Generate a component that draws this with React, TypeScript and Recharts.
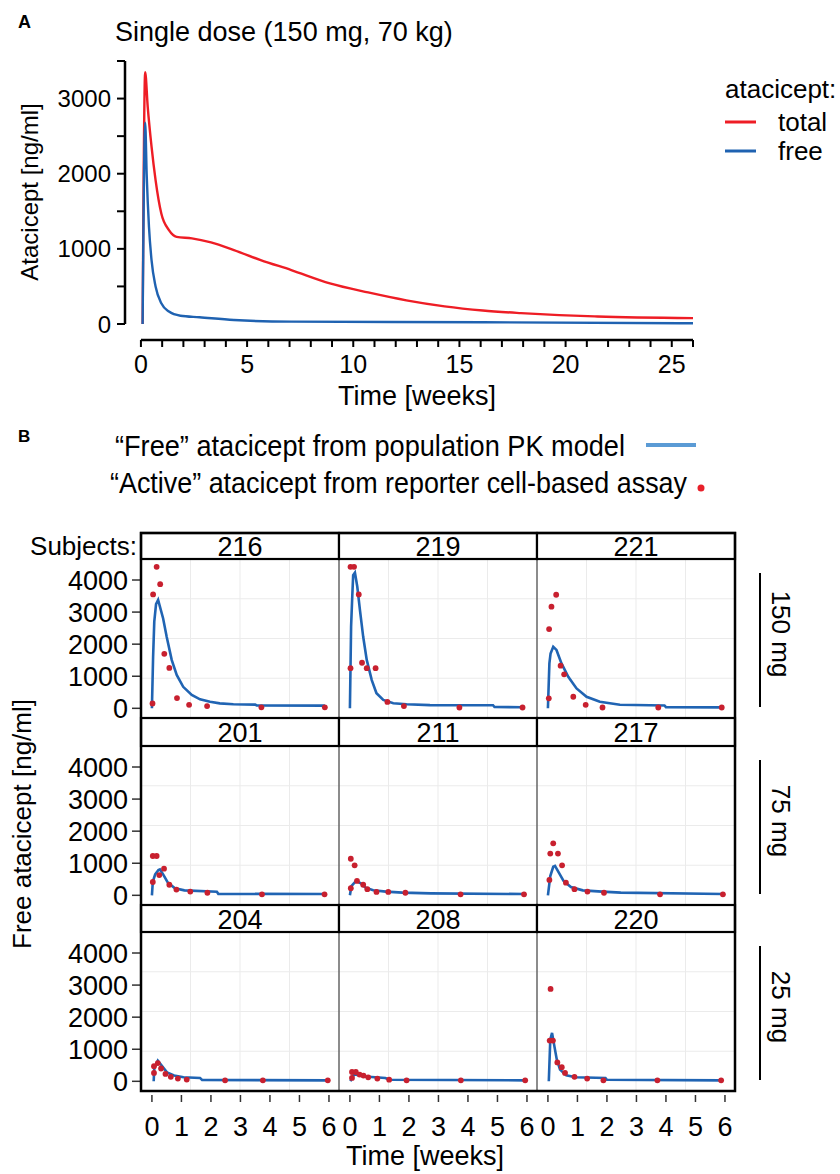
import React from 'react';
import {
  LineChart,
  ComposedChart,
  Line,
  Scatter,
  XAxis,
  YAxis,
  ReferenceLine,
  CartesianGrid,
} from 'recharts';

const FONT = '"Liberation Sans", Arial, Helvetica, sans-serif';

// ---------- Panel A data (single dose 150 mg, 70 kg) ----------
const totalWeeks = [0.08, 0.2, 0.32, 0.5, 0.69, 0.96, 1.32, 1.68, 2.4, 3.3, 4.38, 5.64, 7.08, 8.9, 10.7, 12.5, 14.3, 16.1, 17.9, 19.7, 21.5, 26];
const totalConc = [0, 3350, 2890, 2360, 1915, 1470, 1250, 1160, 1140, 1086, 984, 851, 718, 541, 420, 315, 235, 180, 145, 118, 100, 78];
const freeWeeks = [0.08, 0.2, 0.27, 0.38, 0.5, 0.69, 0.96, 1.32, 1.86, 2.76, 4.38, 7.08, 16.1, 26];
const freeConc = [0, 2680, 2000, 1290, 850, 500, 275, 165, 110, 90, 53, 31, 24, 9];
const A_Y_TICKS = [0, 500, 1000, 1500, 2000, 2500, 3000, 3500];
const A_X_TICKS = Array.from({ length: 27 }, (_, i) => i);

// ---------- Panel B data ----------
const subjects = ['216', '219', '221', '201', '211', '217', '204', '208', '220'];
const doseLabels = ['150 mg', '75 mg', '25 mg'];
const B_Y_TICKS = [0, 1000, 2000, 3000, 4000];
const B_X_TICKS = [0, 1, 2, 3, 4, 5, 6];

type P = [number, number];
const obs216: P[] = [[0.02, 150], [0.04, 3550], [0.16, 4410], [0.28, 3870], [0.42, 1700], [0.59, 1260], [0.85, 320], [1.26, 110], [1.87, 70], [3.71, 30], [5.86, 30]];
const model216: P[] = [[0, 0], [0.04, 1600], [0.08, 2700], [0.14, 3250], [0.21, 3380], [0.38, 2800], [0.5, 2230], [0.67, 1510], [0.84, 1040], [1.06, 670], [1.35, 415], [1.63, 280], [1.97, 205], [2.3, 155], [2.76, 125], [3.5, 115], [3.55, 90], [5.86, 85]];
const obs219: P[] = [[0.02, 4410], [0.14, 4410], [0.02, 1250], [0.3, 3550], [0.41, 1420], [0.57, 1250], [0.87, 1250], [1.27, 200], [1.83, 70], [3.71, 25], [5.85, 25]];
const model219: P[] = [[0, 0], [0.04, 2550], [0.08, 3500], [0.11, 4150], [0.17, 4230], [0.25, 3790], [0.34, 3060], [0.45, 2230], [0.57, 1510], [0.74, 880], [0.9, 470], [1.13, 260], [1.47, 160], [1.92, 125], [2.71, 100], [4.85, 95], [4.9, 40], [5.85, 35]];
const obs221: P[] = [[0.03, 310], [0.04, 2470], [0.12, 3170], [0.28, 3540], [0.43, 1330], [0.55, 1060], [0.86, 360], [1.28, 110], [1.85, 25], [3.74, 25], [5.89, 25]];
const model221: P[] = [[0, 0], [0.05, 1400], [0.09, 1710], [0.18, 1920], [0.29, 1820], [0.46, 1400], [0.69, 985], [0.97, 620], [1.31, 360], [1.76, 205], [2.44, 110], [3.95, 90], [4.0, 35], [5.89, 30]];
const obs201: P[] = [[0.03, 1225], [0.16, 1225], [0.03, 415], [0.25, 630], [0.41, 830], [0.59, 330], [0.83, 180], [1.3, 115], [1.88, 80], [3.73, 30], [5.85, 30]];
const model201: P[] = [[0, 0], [0.03, 420], [0.11, 650], [0.22, 790], [0.27, 810], [0.38, 650], [0.54, 395], [0.78, 220], [1.1, 155], [2.2, 110], [2.25, 45], [5.85, 40]];
const obs211: P[] = [[0.03, 1140], [0.16, 935], [0.03, 220], [0.24, 450], [0.45, 330], [0.59, 190], [0.9, 105], [1.3, 105], [1.88, 80], [3.75, 30], [5.9, 30]];
const model211: P[] = [[0, 0], [0.05, 290], [0.21, 450], [0.37, 375], [0.53, 240], [0.79, 155], [1.22, 115], [1.78, 85], [2.74, 60], [5.9, 40]];
const obs217: P[] = [[0.05, 480], [0.08, 1300], [0.18, 1620], [0.34, 1300], [0.48, 935], [0.61, 395], [0.9, 190], [1.34, 115], [1.9, 80], [3.8, 30], [5.93, 30]];
const model217: P[] = [[0, 0], [0.08, 600], [0.18, 890], [0.24, 915], [0.37, 705], [0.53, 450], [0.78, 260], [1.18, 155], [1.83, 115], [2.47, 85], [5.93, 40]];
const obs204: P[] = [[0.07, 260], [0.07, 470], [0.2, 570], [0.31, 400], [0.46, 230], [0.64, 140], [0.88, 85], [1.18, 55], [2.48, 30], [3.76, 30], [5.96, 30]];
const model204: P[] = [[0.06, 0], [0.08, 420], [0.2, 645], [0.35, 470], [0.51, 280], [0.75, 180], [1.07, 125], [1.63, 105], [1.7, 40], [5.96, 30]];
const obs208: P[] = [[0.07, 290], [0.2, 290], [0.07, 105], [0.33, 210], [0.46, 180], [0.62, 125], [0.93, 85], [1.33, 50], [1.92, 30], [3.76, 30], [5.94, 30]];
const model208: P[] = [[0.02, 0], [0.1, 170], [0.17, 210], [0.5, 150], [1.2, 105], [1.35, 50], [5.94, 30]];
const obs220: P[] = [[0.09, 2880], [0.06, 1270], [0.17, 1270], [0.32, 590], [0.47, 440], [0.58, 260], [0.9, 140], [1.33, 85], [1.88, 30], [3.71, 30], [5.87, 30]];
const model220: P[] = [[0.03, 0], [0.08, 1300], [0.14, 1510], [0.22, 1090], [0.3, 680], [0.41, 365], [0.62, 190], [0.94, 125], [1.95, 105], [2.0, 50], [5.87, 30]];

const observed = [obs216, obs219, obs221, obs201, obs211, obs217, obs204, obs208, obs220];
const modelled = [model216, model219, model221, model201, model211, model217, model204, model208, model220];

// ---------- layout ----------
const COL_LEFT = [141, 339, 537];
const PANEL_W = 198;
const STRIP_TOP = [533, 718, 905];
const PANEL_TOP = [559, 746, 932];
const PANEL_H = 159;
const B_X_DOMAIN: [number, number] = [-0.37, 6.34];
const B_Y_DOMAIN: [number, number] = [-302, 4655];
const B_TICK_FONT = 27;

const rowsOf = (pairs: P[]) => pairs.map(([t, v]) => ({ t, v }));
const zip = (ts: number[], vs: number[]) => ts.map((t, i) => ({ t, v: vs[i] }));

const RedDot = (p: any) =>
  p.cx == null ? null : <circle cx={p.cx} cy={p.cy} r={2.9} fill="#c8202f" />;

const BottomTick = (p: any) => {
  const { x, y, payload } = p;
  return (
    <g>
      <line x1={x} x2={x} y1={y + 4} y2={y + 11} stroke="#333" strokeWidth={1.5} />
      <text x={x} y={y + 36} textAnchor="middle" dominantBaseline="central" fontSize={B_TICK_FONT} fill="#000">
        {payload.value}
      </text>
    </g>
  );
};

function Facet({ idx }: { idx: number }) {
  const row = Math.floor(idx / 3);
  const col = idx % 3;
  const isLeft = col === 0;
  const isBottom = row === 2;
  const yAxisW = isLeft ? COL_LEFT[0] : 0;
  const xAxisH = isBottom ? 70 : 0;
  const extraBottom = isLeft && !isBottom ? 14 : 0;
  const left = isLeft ? 0 : COL_LEFT[col];
  const width = PANEL_W + yAxisW;
  const height = PANEL_H + xAxisH + extraBottom;
  const hPts = [1, 2, 3].map((k) => (PANEL_H * k) / 4);
  const vPts = [1, 2, 3].map((k) => yAxisW + (PANEL_W * k) / 4);
  return (
    <div style={{ position: 'absolute', left, top: PANEL_TOP[row], width, height }}>
      <ComposedChart width={width} height={height} margin={{ top: 0, right: 0, bottom: extraBottom, left: 0 }}>
        <CartesianGrid stroke="#ebebeb" strokeWidth={1} horizontalPoints={hPts} verticalPoints={vPts} />
        <XAxis
          type="number"
          dataKey="t"
          domain={B_X_DOMAIN}
          allowDataOverflow
          ticks={B_X_TICKS}
          interval={0}
          hide={!isBottom}
          height={xAxisH}
          axisLine={false}
          tickLine={false}
          tickSize={0}
          tickMargin={0}
          tick={<BottomTick />}
        />
        <YAxis
          type="number"
          dataKey="v"
          domain={B_Y_DOMAIN}
          allowDataOverflow
          ticks={B_Y_TICKS}
          interval={0}
          hide={!isLeft}
          width={yAxisW}
          axisLine={false}
          tickSize={9}
          tickMargin={4}
          tickLine={{ stroke: '#333', strokeWidth: 1.5 }}
          tick={{ fill: '#000', fontSize: B_TICK_FONT }}
        />
        <Line
          data={rowsOf(modelled[idx])}
          dataKey="v"
          type="linear"
          stroke="#2064b3"
          strokeWidth={2.6}
          dot={false}
          activeDot={false}
          isAnimationActive={false}
        />
        <Scatter data={rowsOf(observed[idx])} dataKey="v" shape={RedDot} isAnimationActive={false} />
      </ComposedChart>
    </div>
  );
}

export default function App() {
  const totalRows = zip(totalWeeks, totalConc);
  const freeRows = zip(freeWeeks, freeConc);
  return (
    <div
      style={{
        position: 'absolute',
        left: 0,
        top: 0,
        width: 840,
        height: 1174,
        background: '#fff',
        fontFamily: FONT,
        overflow: 'hidden',
      }}
    >
      {/* Panel A */}
      <div style={{ position: 'absolute', left: 0, top: 0, width: 720, height: 420 }}>
        <LineChart width={720} height={420} margin={{ top: 61, right: 27, bottom: 0, left: 0 }}>
          <XAxis
            type="number"
            dataKey="t"
            domain={[-0.75, 26]}
            allowDataOverflow
            ticks={A_X_TICKS}
            interval={0}
            tickFormatter={(v: number) => (v % 5 === 0 ? String(v) : '')}
            height={80}
            axisLine={false}
            tickSize={7}
            tickMargin={8}
            tickLine={{ stroke: '#000', strokeWidth: 2 }}
            tick={{ fill: '#000', fontSize: 25 }}
          />
          <YAxis
            type="number"
            domain={[-213, 3500]}
            allowDataOverflow
            ticks={A_Y_TICKS}
            interval={0}
            tickFormatter={(v: number) => (v % 1000 === 0 ? String(v) : '')}
            width={125}
            axisLine={false}
            tickSize={8}
            tickMargin={6}
            tickLine={{ stroke: '#000', strokeWidth: 2 }}
            tick={{ fill: '#000', fontSize: 24 }}
          />
          <ReferenceLine segment={[{ x: -0.75, y: 0 }, { x: -0.75, y: 3500 }]} stroke="#000" strokeWidth={2.5} />
          <ReferenceLine segment={[{ x: 0, y: -213 }, { x: 26, y: -213 }]} stroke="#000" strokeWidth={2.5} />
          <Line
            data={totalRows}
            dataKey="v"
            type="monotone"
            stroke="#ee1d25"
            strokeWidth={2.4}
            dot={false}
            activeDot={false}
            isAnimationActive={false}
          />
          <Line
            data={freeRows}
            dataKey="v"
            type="monotone"
            stroke="#1f62b1"
            strokeWidth={2.4}
            dot={false}
            activeDot={false}
            isAnimationActive={false}
          />
        </LineChart>
      </div>

      {/* Panel B facets */}
      {subjects.map((_, i) => (
        <Facet key={i} idx={i} />
      ))}

      {/* Decorations and text */}
      <svg
        width={840}
        height={1174}
        style={{ position: 'absolute', left: 0, top: 0, pointerEvents: 'none' }}
        fontFamily={FONT}
      >
        {/* Panel A texts */}
        <text x={18} y={28} fontSize={18} fontWeight="bold" fill="#000">A</text>
        <text x={115} y={41} fontSize={27} fill="#000">Single dose (150 mg, 70 kg)</text>
        <text
          x={29}
          y={192}
          fontSize={24}
          fill="#000"
          textAnchor="middle"
          dominantBaseline="central"
          transform="rotate(-90 29 192)"
        >
          Atacicept [ng/ml]
        </text>
        <text x={417} y={396} fontSize={27} fill="#000" textAnchor="middle" dominantBaseline="central">
          Time [weeks]
        </text>
        {/* Panel A legend */}
        <text x={725} y={98} fontSize={26} fill="#000">atacicept:</text>
        <line x1={725} x2={756} y1={122} y2={122} stroke="#ee1d25" strokeWidth={3} />
        <text x={778} y={131} fontSize={26} fill="#000">total</text>
        <line x1={725} x2={756} y1={151} y2={151} stroke="#1f62b1" strokeWidth={3} />
        <text x={778} y={160} fontSize={26} fill="#000">free</text>

        {/* Panel B legend */}
        <text x={18} y={442} fontSize={17} fontWeight="bold" fill="#000">B</text>
        <text x={115} y={456} fontSize={29} fill="#000" textLength={510} lengthAdjust="spacingAndGlyphs">
          “Free” atacicept from population PK model
        </text>
        <line x1={646} x2={696} y1={445} y2={445} stroke="#5b9bd5" strokeWidth={4} />
        <text x={110} y={493} fontSize={29} fill="#000" textLength={577} lengthAdjust="spacingAndGlyphs">
          “Active” atacicept from reporter cell-based assay
        </text>
        <circle cx={701} cy={488} r={3.5} fill="#e8202a" />

        {/* column dividers inside panels */}
        {PANEL_TOP.map((pt, r) =>
          [1, 2].map((c) => (
            <line key={`d${r}${c}`} x1={COL_LEFT[c]} x2={COL_LEFT[c]} y1={pt} y2={pt + PANEL_H} stroke="#666" strokeWidth={1.5} />
          ))
        )}
        {/* strips */}
        {STRIP_TOP.map((st, r) =>
          [0, 1, 2].map((c) => (
            <g key={`s${r}${c}`}>
              <rect
                x={COL_LEFT[c]}
                y={st}
                width={PANEL_W}
                height={PANEL_TOP[r] - st}
                fill="#fff"
                stroke="#000"
                strokeWidth={2.2}
              />
              <text
                x={COL_LEFT[c] + PANEL_W / 2}
                y={st + (PANEL_TOP[r] - st) / 2 + 1}
                fontSize={27}
                fill="#000"
                textAnchor="middle"
                dominantBaseline="central"
              >
                {subjects[r * 3 + c]}
              </text>
            </g>
          ))
        )}
        {/* outer frame */}
        <rect
          x={COL_LEFT[0]}
          y={STRIP_TOP[0]}
          width={PANEL_W * 3}
          height={PANEL_TOP[2] + PANEL_H - STRIP_TOP[0]}
          fill="none"
          stroke="#000"
          strokeWidth={2.5}
        />
        <text x={137} y={546} fontSize={26} fill="#000" textAnchor="end" dominantBaseline="central">
          Subjects:
        </text>
        <text
          x={22}
          y={824}
          fontSize={26}
          fill="#000"
          textAnchor="middle"
          dominantBaseline="central"
          transform="rotate(-90 22 824)"
        >
          Free atacicept [ng/ml]
        </text>
        <text x={425} y={1156} fontSize={27} fill="#000" textAnchor="middle" dominantBaseline="central">
          Time [weeks]
        </text>
        {/* dose labels */}
        {doseLabels.map((d, r) => {
          const cy = PANEL_TOP[r] + 75;
          return (
            <g key={d}>
              <line x1={760} x2={760} y1={PANEL_TOP[r] + 14} y2={PANEL_TOP[r] + 148} stroke="#000" strokeWidth={2} />
              <text
                x={781}
                y={cy}
                fontSize={26}
                fill="#000"
                textAnchor="middle"
                dominantBaseline="central"
                transform={`rotate(90 781 ${cy})`}
              >
                {d}
              </text>
            </g>
          );
        })}
      </svg>
    </div>
  );
}
